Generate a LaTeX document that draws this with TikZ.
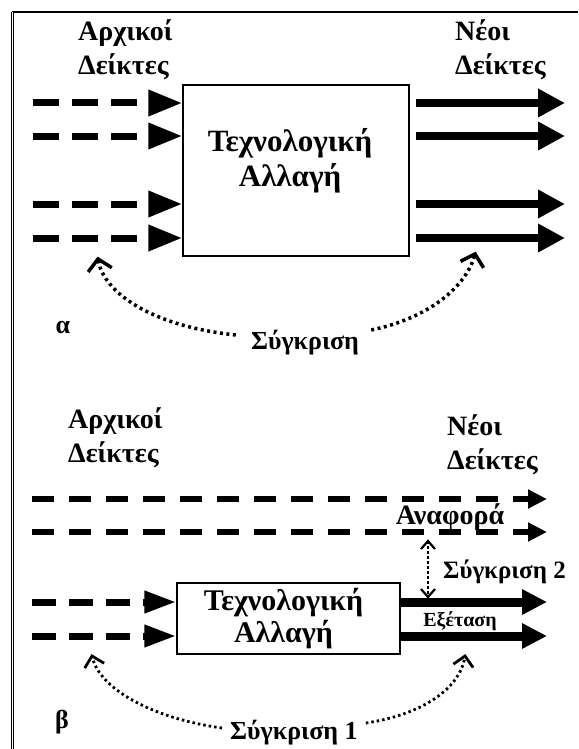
\documentclass[tikz,border=0pt]{standalone}
\usepackage{fontspec}
\setmainfont{Liberation Serif}
\usetikzlibrary{arrows.meta,calc}
\newcommand\drawchev[5]{%
  \draw[line width=#5, line join=miter, line cap=butt]
    ($($(#1)!#3!(#2)$)!#4!90:(#1)$) -- (#1) -- ($($(#1)!#3!(#2)$)!#4!-90:(#1)$);}
\begin{document}
\begin{tikzpicture}[x=1pt,y=-1pt,
  lbl/.style={font=\bfseries\fontsize{28}{34}\selectfont, align=left, inner sep=0pt, anchor=west},
  boxtxt/.style={font=\bfseries\fontsize{31}{35}\selectfont, align=center, inner sep=0pt},
  cmptxt/.style={font=\bfseries\fontsize{26}{30}\selectfont, inner sep=0pt},
  smalltxt/.style={font=\bfseries\fontsize{20}{24}\selectfont, inner sep=0pt},
  box/.style={draw, line width=1.5pt, fill=white, rectangle, inner sep=0pt},
  inA/.style={line width=7pt, dash pattern=on 26pt off 13pt, -{Triangle[length=34pt,width=25pt]}},
  outA/.style={line width=8pt, -{Triangle[length=27pt,width=27pt]}},
  longB/.style={line width=6pt, dash pattern=on 22pt off 15pt, -{Triangle[length=19pt,width=18pt]}},
  inB/.style={line width=7pt, dash pattern=on 24pt off 13pt, -{Triangle[length=32pt,width=21pt]}},
  outB/.style={line width=9pt, -{Triangle[length=25pt,width=24pt]}},
  arcA/.style={line width=3.5pt, dash pattern=on 3pt off 3.5pt},
  arcB/.style={line width=2.8pt, dash pattern=on 2.5pt off 3pt},
  cmpv/.style={line width=2.5pt, dash pattern=on 2.5pt off 2.5pt}
]
\useasboundingbox (0,0) rectangle (578,749);
\fill[white] (0,0) rectangle (578,749);
% frame
\draw[line width=1.5pt] (12,12) -- (578,12);
\draw[line width=0.9pt, double, double distance=1.2pt] (12.5,12) -- (12.5,749);

% ---------- panel alpha ----------
\node[lbl] (ta1) at (78,50) {Αρχικοί\\Δείκτες};
\node[lbl] (tn1) at (455,50) {Νέοι\\Δείκτες};
\node[box, minimum width=226pt, minimum height=171pt] (b1) at (296,170.5) {};
\node[boxtxt, xshift=-6pt, yshift=10pt] (bt1) at (b1.center) {Τεχνολογική\\Αλλαγή};

\foreach \i/\y in {1/103,2/136,3/204,4/238}{
  \coordinate (ia\i) at (33,\y);
  \coordinate (oa\i) at (565,\y);
  \draw[inA] (ia\i) -- (ia\i -| b1.west);
  \draw[outA, shorten <=6pt] (oa\i -| b1.east) -- (oa\i);
}
\node[cmptxt] (alpha) at (63,327) {α};
\node[cmptxt] (cmpA) at (305,343) {Σύγκριση};
\coordinate (tipAL) at (98,259);
\coordinate (tipAR) at (475,254);
\coordinate (kAL) at (104,292);
\coordinate (kAR) at (466,286);
\draw[arcA] ([shift={(-15,-8)}]cmpA.west) .. controls (150,326) and (kAL) .. ($(tipAL)!2pt!(kAL)$);
\draw[arcA] ([shift={(12,-13)}]cmpA.east) .. controls (430,318) and (kAR) .. ($(tipAR)!2pt!(kAR)$);
\drawchev{tipAL}{kAL}{11pt}{12pt}{3.5pt}
\drawchev{tipAR}{kAR}{11pt}{12pt}{3.5pt}

% ---------- panel beta ----------
\node[lbl] (ta2) at (68,438) {Αρχικοί\\Δείκτες};
\node[lbl] (tn2) at (447,445) {Νέοι\\Δείκτες};

\coordinate (la1) at (32,499); \coordinate (lb1) at (547,499);
\coordinate (la2) at (32,532); \coordinate (lb2) at (547,532);
\draw[longB] (la1) -- (lb1);
\draw[longB] (la2) -- (lb2);
\node[cmptxt, font=\bfseries\fontsize{28}{30}\selectfont] (ref) at (450,517) {Αναφορά};

\node[box, minimum width=223pt, minimum height=71pt] (b2) at (288.5,618.5) {};
\node[boxtxt, font=\bfseries\fontsize{30}{32}\selectfont, xshift=-5pt] (bt2) at (b2.center) {Τεχνολογική\\Αλλαγή};

\foreach \i/\y in {1/602,2/636}{
  \coordinate (ib\i) at (32,\y);
  \coordinate (ob\i) at (547,\y);
  \draw[inB] (ib\i) -- (ib\i -| b2.west);
  \draw[outB] (ob\i -| b2.east) -- (ob\i);
}
\node[smalltxt] (exam) at (460,621) {Εξέταση};

\coordinate (c2t) at (428,541);
\coordinate (c2b) at (428,597);
\draw[cmpv] (c2t) -- (c2b);
\drawchev{c2t}{c2b}{8pt}{7pt}{2.2pt}
\drawchev{c2b}{c2t}{8pt}{7pt}{2.2pt}
\node[cmptxt, anchor=west, font=\bfseries\fontsize{25}{30}\selectfont] (cmp2) at (443,572) {Σύγκριση 2};

\node[cmptxt] (beta) at (62,722) {β};
\node[cmptxt, anchor=west] (cmp1) at (230,733) {Σύγκριση 1};
\coordinate (tipBL) at (92,656);
\coordinate (tipBR) at (465,656);
\coordinate (kBL) at (100,688);
\coordinate (kBR) at (459,690);
\draw[arcB] ([shift={(-8,-5)}]cmp1.west) .. controls (150,718) and (kBL) .. ($(tipBL)!2pt!(kBL)$);
\draw[arcB] ([shift={(8,-10)}]cmp1.east) .. controls (420,715) and (kBR) .. ($(tipBR)!2pt!(kBR)$);
\drawchev{tipBL}{kBL}{10pt}{10pt}{2.8pt}
\drawchev{tipBR}{kBR}{10pt}{10pt}{2.8pt}
\end{tikzpicture}
\end{document}
